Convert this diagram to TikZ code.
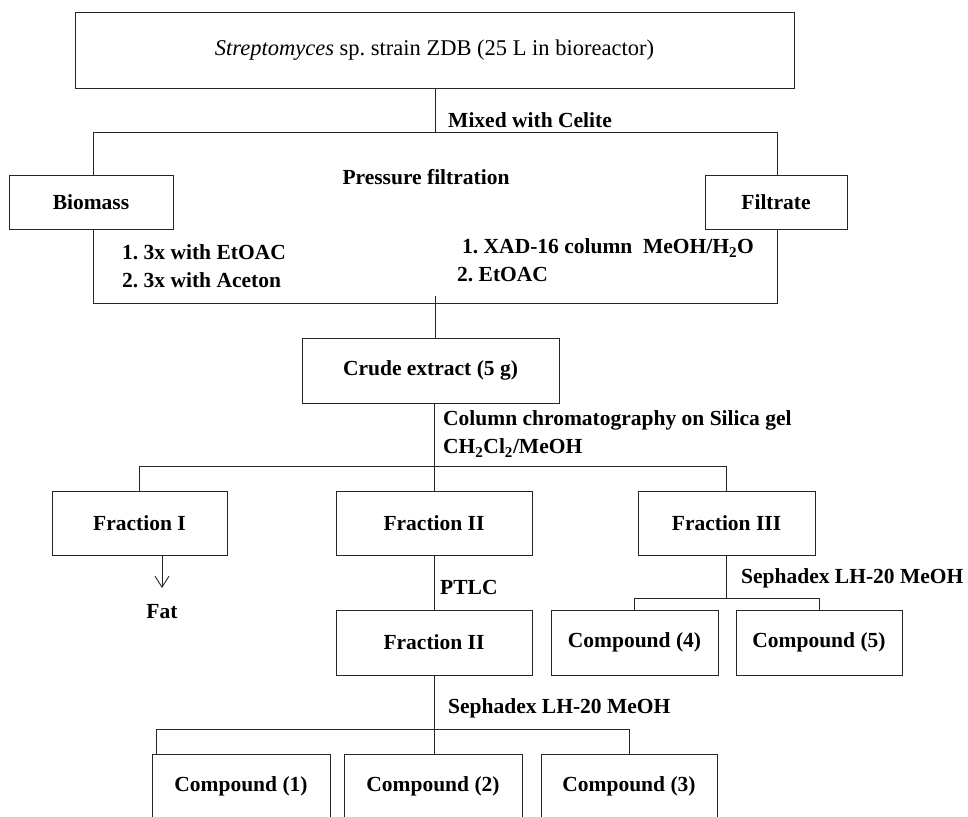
\documentclass[tikz,border=0pt]{standalone}
\usepackage{fontspec}
\setmainfont{Liberation Serif}
\usetikzlibrary{arrows.meta}
\tikzset{
  box/.style={draw=black!85, line width=0.9pt, fill=white, inner sep=0pt, font=\fontsize{21.5}{24}\selectfont\bfseries\frenchspacing},
  lbl/.style={inner sep=0pt, font=\fontsize{21.5}{24}\selectfont\bfseries\frenchspacing},
  conn/.style={draw=black!85, line width=0.9pt},
}
\begin{document}
\frenchspacing
\begin{tikzpicture}[x=1pt, y=-1pt]
\useasboundingbox (0,0) rectangle (968,816);
\clip (0,0) rectangle (968,816);
% top
\node[box, minimum width=719pt, minimum height=76pt, font=\fontsize{22.5}{26}\selectfont\frenchspacing] (top) at (434.5,50)
  {\textit{Streptomyces} sp. strain ZDB (25 L in bioreactor)};
% big filtration box
\node[box, fill=none, minimum width=684pt, minimum height=171pt] (big) at (435,217.5) {};
\node[lbl] (pf) at (426,177) {Pressure filtration};
\node[box, minimum width=164pt, minimum height=54pt] (bio) at (91,202) {Biomass};
\node[box, minimum width=142pt, minimum height=54pt] (fil) at (776,202) {Filtrate};
\node[lbl, anchor=west] (b1) at (122,252) {1. 3x with EtOAC};
\node[lbl, anchor=west] (b2) at (122,280) {2. 3x with Aceton};
\node[lbl, anchor=west] (f1t) at (462,248) {1. XAD-16 column\ \ MeOH/H\textsubscript{2}O};
\node[lbl, anchor=west] (f2t) at (457,275) {2. EtOAC};
\draw[conn] (top.south -| big.north) -- (big.north);
\node[lbl, anchor=west] (mix) at (448,120) {Mixed with Celite};
% crude
\node[box, minimum width=257pt, minimum height=65pt] (crude) at (430.5,370.5) {Crude extract (5 g)};
\draw[conn] ([yshift=7pt]big.south) -- (big.south |- crude.north);
\node[lbl, anchor=west] (cc1) at (443,420) {Column chromatography on Silica gel};
\node[lbl, anchor=west] (cc2) at (443,448) {CH\textsubscript{2}Cl\textsubscript{2}/MeOH};
% fractions
\node[box, minimum width=175pt, minimum height=64pt] (fr1) at (139.5,523) {Fraction I};
\node[box, minimum width=196pt, minimum height=64pt] (fr2) at (434,523) {Fraction II};
\node[box, minimum width=177pt, minimum height=64pt] (fr3) at (726.5,523) {Fraction III};
\coordinate (bar1) at (434,466);
\draw[conn] (fr2.north |- crude.south) -- (fr2.north);
\draw[conn] (fr1.north) -- (fr1.north |- bar1) -- (fr3.north |- bar1) -- (fr3.north);
% fat
\coordinate (fatend) at (162,588);
\draw[conn, -{Straight Barb[length=11pt, width=14pt, line width=0.9pt]}] (fatend |- fr1.south) -- (fatend);
\node[lbl] (fat) at (162,612) {Fat};
% fraction II second
\node[box, minimum width=196pt, minimum height=65pt] (fr2b) at (434,642.5) {Fraction II};
\draw[conn] (fr2.south) -- (fr2b.north);
\node[lbl, anchor=west] (ptlc) at (440,587) {PTLC};
% compounds 4, 5
\node[box, minimum width=167pt, minimum height=65pt] (c4) at (634.5,642.5) {Compound (4)};
\node[box, minimum width=166pt, minimum height=65pt] (c5) at (819,642.5) {Compound (5)};
\coordinate (bar2) at (726.5,598);
\draw[conn] (fr3.south) -- (bar2);
\draw[conn] (c4.north) -- (c4.north |- bar2) -- (c5.north |- bar2) -- (c5.north);
\node[lbl, anchor=west] (sep1) at (741,578) {Sephadex LH-20 MeOH};
% compounds 1,2,3
\node[box, minimum width=178pt, minimum height=65pt] (c1) at (241,786.5) {Compound (1)};
\node[box, minimum width=178pt, minimum height=65pt] (c2) at (433,786.5) {Compound (2)};
\node[box, minimum width=176pt, minimum height=65pt] (c3) at (629,786.5) {Compound (3)};
\coordinate (bar3) at (434,729);
\coordinate (c1drop) at (156,754);
\draw[conn] (fr2b.south) -- (fr2b.south |- c2.north);
\draw[conn] (c1drop) -- (c1drop |- bar3) -- (c3.north |- bar3) -- (c3.north);
\node[lbl, anchor=west] (sep2) at (448,708) {Sephadex LH-20 MeOH};
\end{tikzpicture}
\end{document}
